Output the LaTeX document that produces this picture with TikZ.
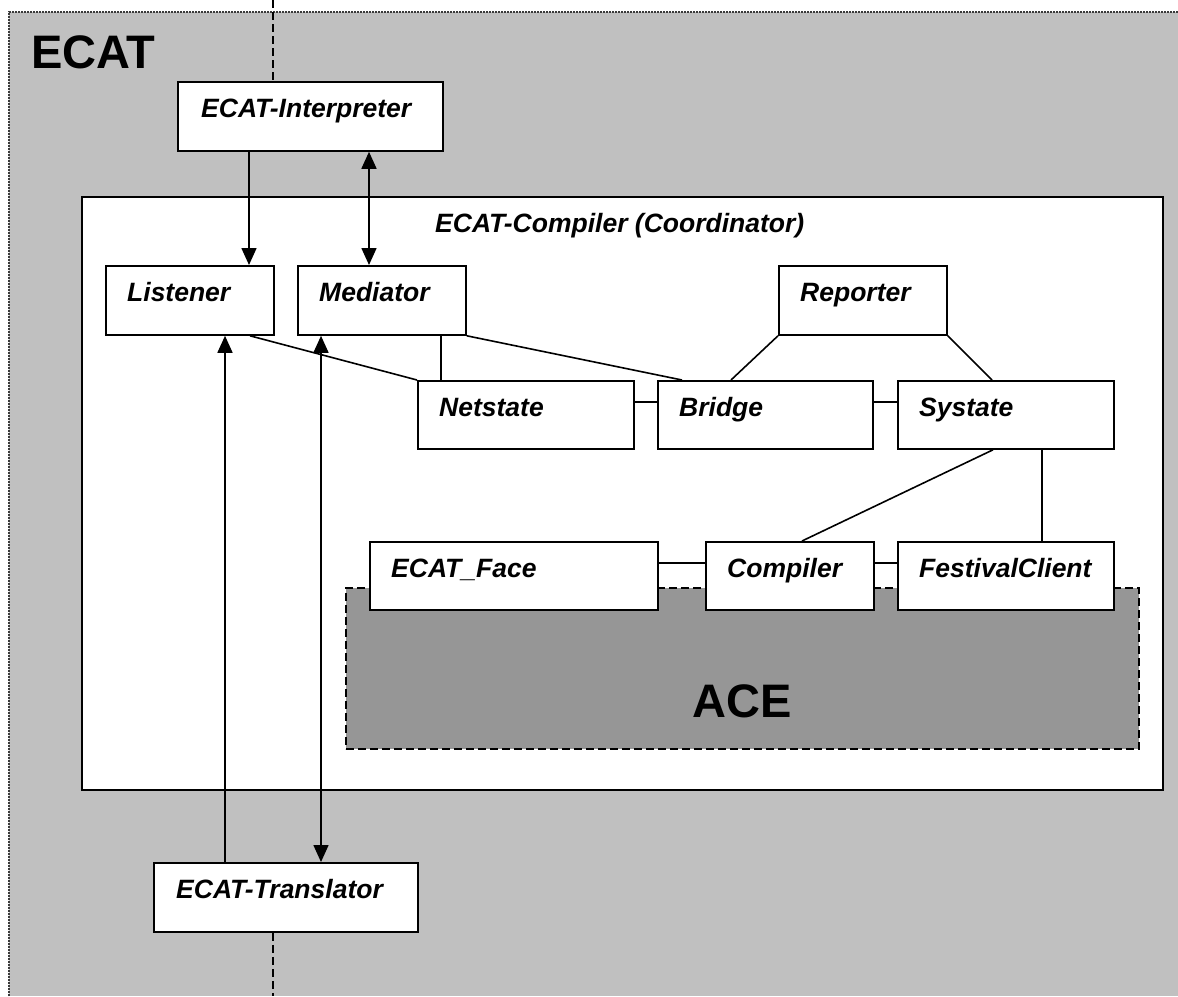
\documentclass[tikz,border=0pt]{standalone}
\usepackage{fontspec}
\setmainfont{Liberation Sans}
\usetikzlibrary{arrows.meta,calc}
\definecolor{ecatgrey}{HTML}{C0C0C0}
\definecolor{acegrey}{HTML}{969696}
\definecolor{frameline}{HTML}{3A3A3A}
\begin{document}
\begin{tikzpicture}[x=1pt,y=-1pt,
  comp/.style={draw=black, line width=1.8pt, fill=white, rectangle, inner sep=0pt, anchor=north west},
  lbl/.style={anchor=base west, inner sep=0pt, font=\fontsize{26.5}{30}\selectfont\bfseries\itshape},
  big/.style={anchor=base west, inner sep=0pt, font=\fontsize{47}{52}\selectfont\bfseries},
  link/.style={line width=1.6pt},
  tipend/.style={line width=1.6pt, -{Triangle[length=17pt,width=15pt]}},
  tipboth/.style={line width=1.6pt, {Triangle[length=17pt,width=15pt]}-{Triangle[length=17pt,width=15pt]}},
  flow/.style={line width=1.7pt, dash pattern=on 8pt off 4pt},
]
\useasboundingbox (0,0) rectangle (1178,996);

% ECAT environment
\fill[ecatgrey] (9,12) rectangle (1178,996);
\draw[frameline, line width=1.3pt, dash pattern=on 2pt off 1pt] (9,996) -- (9,12) -- (1178,12);
\node[big] (ecat) at (31,68) {ECAT};

% outer components
\node[comp, minimum width=265pt, minimum height=69pt] (interp) at (177,81) {};
\node[lbl] (interpT) at (201,117) {ECAT-Interpreter};
\node[comp, minimum width=264pt, minimum height=69pt] (trans) at (153,862) {};
\node[lbl] (transT) at (176,898) {ECAT-Translator};

% flow through the system
\coordinate (topIn) at (273,0);
\coordinate (botOut) at (273,996);
\draw[flow] (topIn) -- (topIn |- interp.north);
\draw[flow] (botOut |- trans.south) -- (botOut);

% compiler (coordinator)
\node[comp, minimum width=1081pt, minimum height=593pt] (coord) at (81,196) {};
\node[lbl] (coordT) at (435,232) {ECAT-Compiler (Coordinator)};

% ACE area
\node[draw=black, fill=acegrey, line width=1.6pt, dash pattern=on 8pt off 4pt, rectangle,
      inner sep=0pt, anchor=north west, minimum width=793pt, minimum height=161pt] (ace) at (345,587) {};
\node[big] (aceT) at (692,717) {ACE};

% inner components
\node[comp, minimum width=168pt, minimum height=69pt] (lis) at (105,265) {};
\node[lbl] (lisT) at (127,301) {Listener};
\node[comp, minimum width=168pt, minimum height=69pt] (med) at (297,265) {};
\node[lbl] (medT) at (319,301) {Mediator};
\node[comp, minimum width=168pt, minimum height=69pt] (rep) at (778,265) {};
\node[lbl] (repT) at (800,301) {Reporter};
\node[comp, minimum width=216pt, minimum height=68pt] (net) at (417,380) {};
\node[lbl] (netT) at (439,416) {Netstate};
\node[comp, minimum width=215pt, minimum height=68pt] (bri) at (657,380) {};
\node[lbl] (briT) at (679,416) {Bridge};
\node[comp, minimum width=216pt, minimum height=68pt] (sys) at (897,380) {};
\node[lbl] (sysT) at (919,416) {Systate};
\node[comp, minimum width=288pt, minimum height=68pt] (face) at (369,541) {};
\node[lbl] (faceT) at (391,577) {ECAT\_Face};
\node[comp, minimum width=168pt, minimum height=68pt] (cmp) at (705,541) {};
\node[lbl] (cmpT) at (727,577) {Compiler};
\node[comp, minimum width=216pt, minimum height=68pt] (fest) at (897,541) {};
\node[lbl] (festT) at (919,577) {FestivalClient};

% associations
\draw[link] ($(lis.south west)+(145,0)$) -- (net.north west);
\draw[link] ($(med.south west)+(144,0)$) -- ($(net.north west)+(24,0)$);
\draw[link] (med.south east) -- ($(bri.north west)+(25,0)$);
\draw[link] (rep.south west) -- ($(bri.north west)+(74,0)$);
\draw[link] (rep.south east) -- ($(sys.north west)+(95,0)$);
\draw[link] ($(net.north east)+(0,22)$) -- ($(bri.north west)+(0,22)$);
\draw[link] ($(bri.north east)+(0,22)$) -- ($(sys.north west)+(0,22)$);
\draw[link] ($(sys.south west)+(96,0)$) -- ($(cmp.north west)+(97,0)$);
\draw[link] ($(sys.south west)+(145,0)$) -- ($(fest.north west)+(145,0)$);
\draw[link] ($(face.north east)+(0,22)$) -- ($(cmp.north west)+(0,22)$);
\draw[link] ($(cmp.north east)+(0,22)$) -- ($(fest.north west)+(0,22)$);

% message flow
\draw[tipend] ($(interp.south west)+(72,0)$) -- ($(lis.north west)+(144,0)$);
\draw[tipboth] ($(med.north west)+(72,0)$) -- ($(interp.south west)+(192,0)$);
\draw[tipend] ($(trans.north west)+(72,0)$) -- ($(lis.south west)+(120,0)$);
\draw[tipboth] ($(med.south west)+(24,0)$) -- ($(trans.north west)+(168,0)$);
\end{tikzpicture}
\end{document}
